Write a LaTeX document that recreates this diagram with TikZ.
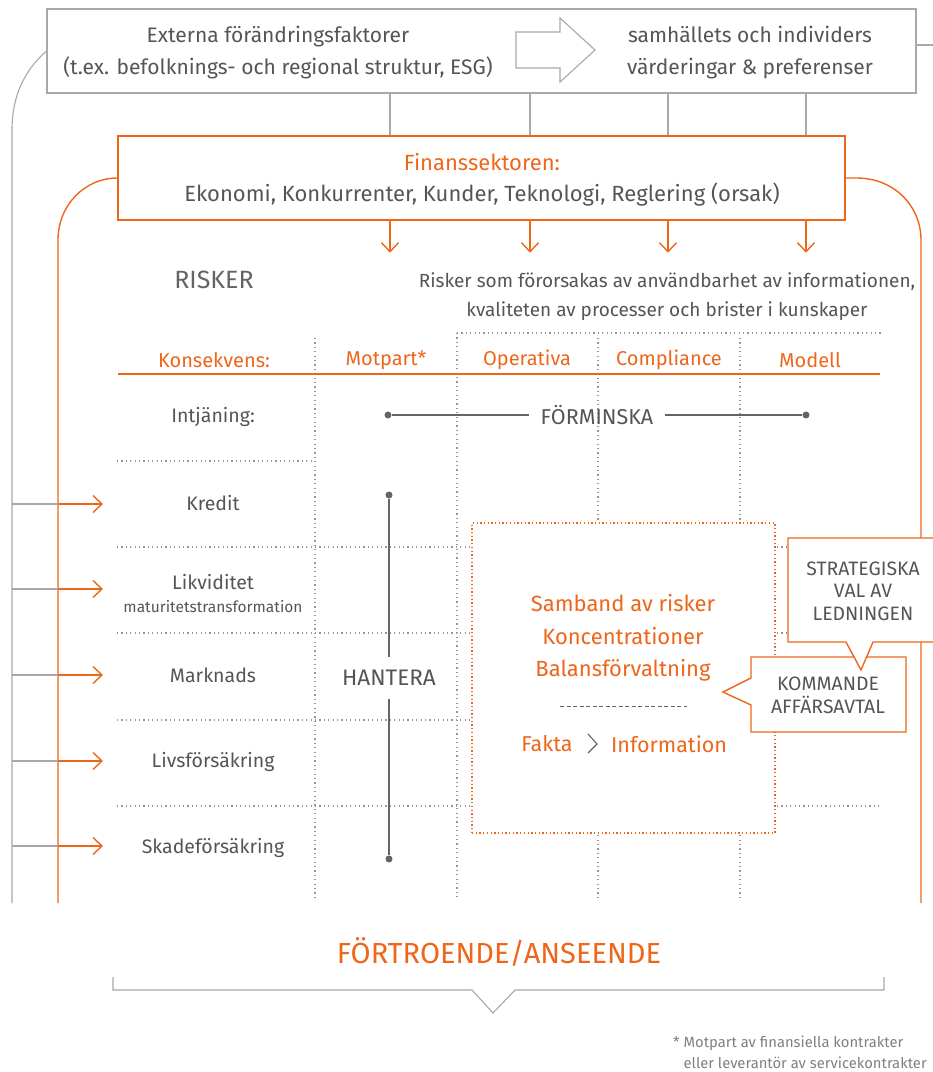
\documentclass[tikz,border=0pt]{standalone}
\usepackage{fontspec}
\setmainfont{Fira Sans}
\usepackage{xcolor}
\usetikzlibrary{arrows.meta}

\definecolor{orng}{RGB}{238,102,26}
\definecolor{txtgray}{RGB}{85,85,85}
\definecolor{linegray}{RGB}{168,168,168}
\definecolor{dotgray}{RGB}{150,150,150}
\definecolor{markgray}{RGB}{100,100,100}

\tikzset{
  txtnode/.style={text=txtgray, align=center, inner sep=0pt},
  otxt/.style={txtnode, text=orng},
  gline/.style={draw=linegray, line width=1.1pt},
  oline/.style={draw=orng, line width=1.4pt},
  oarrow/.style={oline, -{Straight Barb[length=9pt, width=17pt]}},
  dotline/.style={draw=dotgray, line width=1.1pt, dash pattern=on 1.2pt off 3.2pt},
  sambbox/.style={draw=orng, fill=white, line width=1.3pt, dash pattern=on 1.3pt off 2.4pt},
  calloutbox/.style={draw=orng, fill=white, line width=1.4pt},
  dotnode/.style={circle, fill=markgray, inner sep=0pt, minimum size=7pt},
  markline/.style={draw=markgray, line width=1.5pt}
}

\begin{document}
\begin{tikzpicture}[x=1pt, y=-1pt]
\useasboundingbox (0,0) rectangle (933,1072);

% Top box
\node[draw=linegray, line width=1.1pt, minimum width=869pt, minimum height=84pt, inner sep=0pt] (ext) at (481.5,51) {};
\node[txtnode, font=\fontsize{21}{32}\selectfont] (extL) at (278,53) {Externa förändringsfaktorer\\(t.ex. befolknings- och regional struktur, ESG)};
\node[txtnode, font=\fontsize{21}{32}\selectfont] (extR) at (750,53) {samhällets och individers\\värderingar \& preferenser};
\draw[gline] (516,32) -- (560,32) -- (560,18) -- (595,50) -- (560,82) -- (560,68) -- (516,68) -- cycle;

% Finance box
\node[draw=orng, line width=1.4pt, minimum width=727pt, minimum height=84pt, inner sep=0pt] (fin) at (481.5,178) {};
\node[txtnode, font=\fontsize{22}{31}\selectfont] (finT) at (482,180) {\textcolor{orng}{Finanssektoren:}\\Ekonomi, Konkurrenter, Kunder, Teknologi, Reglering (orsak)};

% columns
\coordinate (k1) at (390,0);
\coordinate (k2) at (530,0);
\coordinate (k3) at (668,0);
\coordinate (k4) at (806,0);
\foreach \k in {k1,k2,k3,k4} {
  \draw[gline] (ext.south -| \k) -- (fin.north -| \k);
  \draw[oarrow] (fin.south -| \k) -- ++(0,32);
}

% outer lines
\coordinate (rstub) at (933,45);
\coordinate (gbot) at (12,903);
\coordinate (obl) at (58,903);
\coordinate (obr) at (921,903);
\draw[gline] (ext.east |- rstub) -- (rstub);
\draw[gline] (ext.west) .. controls (25,70) and (12,95) .. (12,130) -- (gbot);
\draw[oline] (fin.west) .. controls (85,178) and (58,205) .. (58,240) -- (obl);
\draw[oline] (fin.east) -- (857,178) .. controls (893,178) and (921,205) .. (921,240) -- (obr);

% Risks header
\node[txtnode, font=\fontsize{25}{28}\selectfont, text=markgray] (risker) at (214,280) {RISKER};
\node[txtnode, font=\fontsize{19}{29}\selectfont] (info) at (667,297) {Risker som förorsakas av användbarhet av informationen,\\kvaliteten av processer och brister i kunskaper};

% grid
\draw[dotline] (457,333) -- (881,333);
\foreach \x/\t in {315/338, 457/333, 598/338, 740/338}
  \draw[dotline] (\x,\t) -- (\x,897);
\draw[dotline] (117,461) -- (315,461);
\foreach \y in {547,633,720,806}
  \draw[dotline] (117,\y) -- (882,\y);

\node[otxt, font=\fontsize{20}{24}\selectfont] (kons) at (214,360) {Konsekvens:};
\node[otxt, font=\fontsize{20}{24}\selectfont] (motp) at (386,360) {Motpart*};
\node[otxt, font=\fontsize{20}{24}\selectfont] (oper) at (527,360) {Operativa};
\node[otxt, font=\fontsize{20}{24}\selectfont] (comp) at (669,360) {Compliance};
\node[otxt, font=\fontsize{20}{24}\selectfont] (mod) at (810,360) {Modell};
\draw[oline] (118,374) -- (880,374);

% rows
\foreach \n/\y/\t in {intj/417/Intjäning:, kre/503/Kredit, mark/675/Marknads, livs/762/Livsförsäkring, skad/848/Skadeförsäkring}
  \node[txtnode, font=\fontsize{19.5}{24}\selectfont] (\n) at (213,\y) {\t};
\node[txtnode, font=\fontsize{19.5}{23}\selectfont] (likv) at (213,593) {Likviditet\\{\fontsize{15.5}{15.5}\selectfont maturitetstransformation}};

% arrows into rows
\foreach \n/\y in {kre/504, likv/589, mark/675, livs/761, skad/846} {
  \coordinate (in\n) at (12,\y);
  \coordinate (mid\n) at (58,\y);
  \coordinate (tip\n) at (103,\y);
  \draw[gline] (in\n) -- (mid\n);
  \draw[oarrow] (mid\n) -- (tip\n);
}

% reduce / manage
\node[dotnode] (fd1) at (388,415) {};
\node[txtnode, inner xsep=12pt, font=\fontsize{21.5}{24}\selectfont] (formin) at (597,415) {FÖRMINSKA};
\node[dotnode] (fd2) at (806,415) {};
\draw[markline] (fd1) -- (formin);
\draw[markline] (formin) -- (fd2);

\node[dotnode] (hd1) at (389,495) {};
\node[txtnode, inner ysep=13.5pt, font=\fontsize{22.5}{24}\selectfont] (hant) at (389,678) {HANTERA};
\node[dotnode] (hd2) at (389,859) {};
\draw[markline] (hd1) -- (hant);
\draw[markline] (hant) -- (hd2);

% Samband
\node[sambbox, minimum width=303pt, minimum height=310pt] (samb) at (623.5,678) {};
\node[otxt, font=\fontsize{22}{32.5}\selectfont] (sambT) at (623,638) {Samband av risker\\Koncentrationer\\Balansförvaltning};
\coordinate (dsh1) at (560,706);
\coordinate (dsh2) at (687,706);
\draw[draw=markgray, line width=1pt, dash pattern=on 4pt off 2.5pt] (dsh1) -- (dsh2);
\node[otxt, font=\fontsize{21.5}{26}\selectfont] (fakta) at (547,744) {Fakta};
\node[otxt, font=\fontsize{21.5}{26}\selectfont] (infoT) at (669,744) {Information};
\draw[draw=markgray, line width=1.1pt] (588,734) -- (597,744) -- (588,753);

% Callouts
\draw[calloutbox] (751,657) -- (906,657) -- (906,732) -- (751,732) -- (751,705) -- (723,692) -- (751,678) -- cycle;
\node[txtnode, font=\fontsize{19.4}{23}\selectfont] (komm) at (828,695) {KOMMANDE\\AFFÄRSAVTAL};
\draw[calloutbox] (933,538) -- (788,538) -- (788,642) -- (846,642) -- (861,670) -- (873,642) -- (933,642);
\node[txtnode, font=\fontsize{19.4}{22.5}\selectfont] (strat) at (863,591) {STRATEGISKA\\VAL AV\\LEDNINGEN};

% Bottom
\node[otxt, font=\fontsize{29}{36}\selectfont] (trust) at (499,952) {FÖRTROENDE/ANSEENDE};
\draw[gline] (113,977) -- (113,990) -- (472,990) -- (493,1013) -- (515,990) -- (884,990) -- (884,977);
\node[txtnode, anchor=west, align=left, text=gray, font=\fontsize{14.8}{21}\selectfont] (note) at (673,1052) {* Motpart av finansiella kontrakter\\\phantom{* }eller leverantör av servicekontrakter};
\end{tikzpicture}
\end{document}
